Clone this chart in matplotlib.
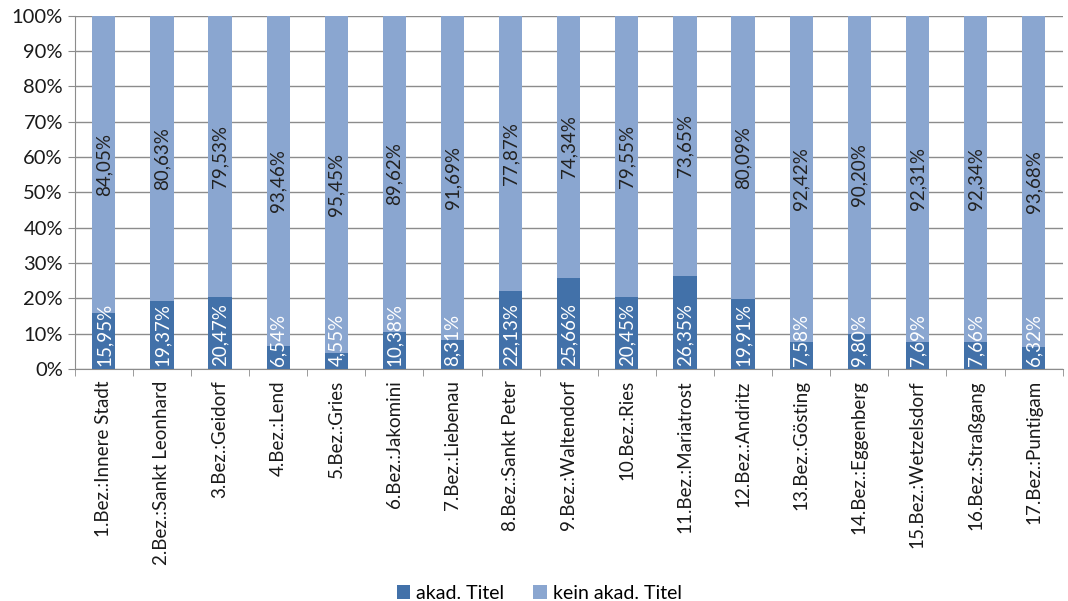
import matplotlib.pyplot as plt
from matplotlib.ticker import FuncFormatter, FixedLocator
import numpy as np

# Bezirke von Graz
bezirke = ['1.Bez.:Innere Stadt', '2.Bez.:Sankt Leonhard', '3.Bez.:Geidorf', '4.Bez.:Lend',
           '5.Bez.:Gries', '6.Bez.:Jakomini', '7.Bez.:Liebenau', '8.Bez.:Sankt Peter',
           '9.Bez.:Waltendorf', '10.Bez.:Ries', '11.Bez.:Mariatrost', '12.Bez.:Andritz',
           '13.Bez.:Gösting', '14.Bez.:Eggenberg', '15.Bez.:Wetzelsdorf', '16.Bez.:Straßgang',
           '17.Bez.:Puntigam']
akad = [15.95, 19.37, 20.47, 6.54, 4.55, 10.38, 8.31, 22.13, 25.66, 20.45, 26.35, 19.91,
        7.58, 9.80, 7.69, 7.66, 6.32]
kein_akad = [84.05, 80.63, 79.53, 93.46, 95.45, 89.62, 91.69, 77.87, 74.34, 79.55, 73.65,
             80.09, 92.42, 90.20, 92.31, 92.34, 93.68]

col_dark = '#4271A9'
col_light = '#8AA6D0'

plt.rcParams['font.family'] = ['Lato', 'DejaVu Sans']

fig = plt.figure(figsize=(10.68, 6.01), dpi=100)
ax = fig.add_axes([0.070, 0.386, 0.925, 0.588])

x = np.arange(len(bezirke))
b1 = ax.bar(x, akad, width=0.4, color=col_dark, label='akad. Titel', zorder=3)
b2 = ax.bar(x, kein_akad, width=0.4, bottom=akad, color=col_light, label='kein akad. Titel', zorder=3)

def fmt(v):
    return f'{v:.2f}'.replace('.', ',') + '%'

# Beschriftungen
for i in range(len(x)):
    ax.text(x[i], 0.8, fmt(akad[i]), rotation=90, ha='center', va='bottom',
            color='white', fontsize=13.5, zorder=4)
    ax.text(x[i], akad[i] + kein_akad[i] / 2, fmt(kein_akad[i]), rotation=90,
            ha='center', va='center', color='#222222', fontsize=13.5, zorder=4)

ax.set_ylim(0, 100)
ax.set_xlim(-0.5, len(x) - 0.5)
ax.set_yticks(np.arange(0, 101, 10))
ax.yaxis.set_major_formatter(FuncFormatter(lambda v, p: f'{int(v)}%'))
ax.grid(axis='y', color='#8c8c8c', linewidth=1, zorder=0)

ax.set_xticks(x)
ax.set_xticklabels(bezirke, rotation=90, fontsize=13.5, color='#1a1a1a')
ax.tick_params(axis='x', length=0, pad=8)
ax.xaxis.set_minor_locator(FixedLocator(np.arange(-0.5, len(x), 1)))
ax.tick_params(axis='x', which='minor', length=5, color='#8c8c8c')
ax.tick_params(axis='y', labelsize=14.5, length=5, color='#8c8c8c', labelcolor='#1a1a1a')

for s in ['top', 'right']:
    ax.spines[s].set_visible(False)
ax.spines['left'].set_color('#8c8c8c')
ax.spines['bottom'].set_color('#8c8c8c')

fig.legend(handles=[b1, b2], loc='lower center', bbox_to_anchor=(0.505, -0.03), ncol=2,
           frameon=False, fontsize=14, handlelength=0.7, handleheight=0.7,
           handletextpad=0.3, columnspacing=1.5)

fig.savefig('out.png', dpi=100)
